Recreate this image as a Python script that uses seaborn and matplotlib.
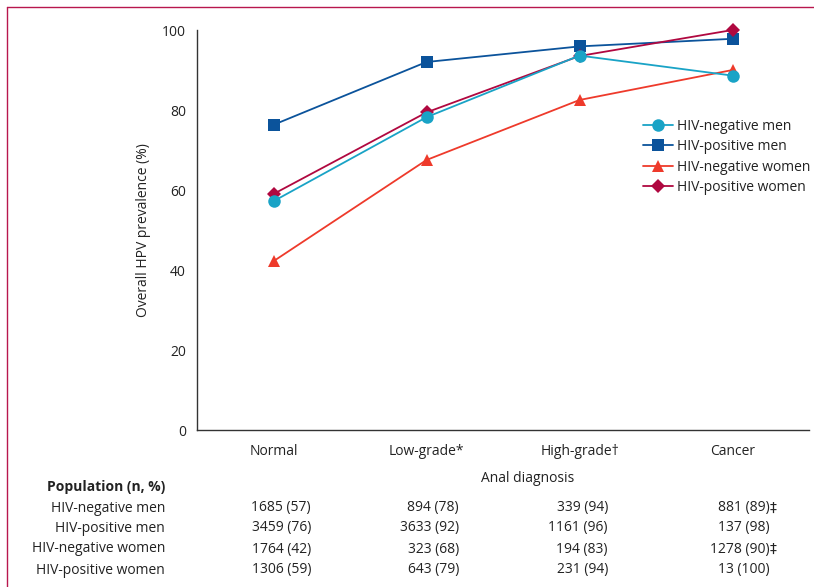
import matplotlib
matplotlib.use("Agg")
import matplotlib.pyplot as plt
from matplotlib.lines import Line2D
import seaborn as sns
import pandas as pd

categories = ["Normal", "Low-grade*", "High-grade\u2020", "Cancer"]
series_names = ["HIV-negative men", "HIV-positive men", "HIV-negative women", "HIV-positive women"]
neg_men = [57.2, 78.2, 93.6, 88.6]
pos_men = [76.3, 92.0, 95.9, 97.8]
neg_women = [42.2, 67.5, 82.5, 90.0]
pos_women = [59.0, 79.4, 93.5, 100.0]
table_rows = [
    ["1685 (57)", "894 (78)", "339 (94)", "881 (89)\u2021"],
    ["3459 (76)", "3633 (92)", "1161 (96)", "137 (98)"],
    ["1764 (42)", "323 (68)", "194 (83)", "1278 (90)\u2021"],
    ["1306 (59)", "643 (79)", "231 (94)", "13 (100)"],
]
colors = ["#19A3C6", "#0B539B", "#EE3A2B", "#B00840"]
markers = ["o", "s", "^", "D"]

sns.set_style("white")
plt.rcParams["font.family"] = ["Open Sans", "DejaVu Sans"]

values = [neg_men, pos_men, neg_women, pos_women]
rows = []
for name, vals in zip(series_names, values):
    for i, (c, v) in enumerate(zip(categories, vals)):
        rows.append({"pos": i, "cat": c, "series": name, "value": v})
df = pd.DataFrame(rows)

fig = plt.figure(figsize=(8.14, 5.87), dpi=100)
ax = fig.add_axes([197 / 814, 1 - 430 / 587, (809 - 197) / 814, 400 / 587])

order_draw = ["HIV-negative women", "HIV-positive men", "HIV-positive women", "HIV-negative men"]
pal = dict(zip(series_names, colors))
mk = dict(zip(series_names, markers))
msz = {"o": 9, "s": 8, "^": 8.5, "D": 7}
for name in order_draw:
    sub = df[df.series == name]
    sns.lineplot(data=sub, x="pos", y="value", color=pal[name], marker=mk[name],
                 markersize=msz[mk[name]], markeredgewidth=0, linewidth=1.3,
                 ax=ax, legend=False, clip_on=False)

handles = [Line2D([0], [0], color=pal[n], marker=mk[n], markersize=msz[mk[n]],
                  markeredgewidth=0, linewidth=1.3) for n in series_names]
leg = ax.legend(handles, series_names, loc="upper left", bbox_to_anchor=(0.719, 0.7925),
                frameon=False, fontsize=10, handlelength=2.2, handletextpad=0.3,
                labelspacing=0.4, borderaxespad=0)
for t in leg.get_texts():
    t.set_color("#222222")

ax.set_xlim(-0.5, 3.5)
ax.set_ylim(0, 100)
ax.set_xticks(range(4))
ax.set_xticklabels(categories)
ax.set_xticks([-0.5, 3.5], minor=True)
ax.set_yticks([0, 20, 40, 60, 80, 100])
ax.tick_params(axis="both", which="both", direction="out", length=5, width=1,
               color="#333333", labelsize=10, labelcolor="#222222", pad=3)
ax.tick_params(axis="x", which="both", length=6)
ax.tick_params(axis="x", which="major", pad=4)
for s in ["top", "right"]:
    ax.spines[s].set_visible(False)
for s in ["left", "bottom"]:
    ax.spines[s].set_color("#333333")
    ax.spines[s].set_linewidth(1)
ax.set_xlabel("")
ax.set_ylabel("Overall HPV prevalence (%)", fontsize=10, color="#222222", labelpad=8)

fig.text(0.5 * (197 + 809) / 814 + 0.03, 1 - 478 / 587, "Anal diagnosis", ha="center",
         va="center", fontsize=10, color="#222222")
fig.text(165 / 814, 1 - 487 / 587, "Population (n, %)", ha="right", va="center",
         fontsize=10, fontweight="bold", color="#222222")
row_y = [508, 528, 549, 570]
col_right = [311, 459, 608, 770]
for name, y, rvals in zip(series_names, row_y, table_rows):
    fig.text(165 / 814, 1 - y / 587, name, ha="right", va="center", fontsize=10, color="#222222")
    for xr, v in zip(col_right, rvals):
        dag = v.endswith("\u2021")
        txt = v[:-1] if dag else v
        fig.text(xr / 814, 1 - y / 587, txt, ha="right", va="center", fontsize=10, color="#222222")
        if dag:
            fig.text(xr / 814, 1 - y / 587, "\u2021", ha="left", va="center", fontsize=10,
                     color="#222222", family=["DejaVu Sans"])

border = "#B8174D"
fig.add_artist(Line2D([7 / 814, 7 / 814], [0, 1 - 7 / 587], color=border, lw=1, transform=fig.transFigure))
fig.add_artist(Line2D([7 / 814, 1], [1 - 7 / 587, 1 - 7 / 587], color=border, lw=1, transform=fig.transFigure))

fig.savefig("out.png", dpi=100)
